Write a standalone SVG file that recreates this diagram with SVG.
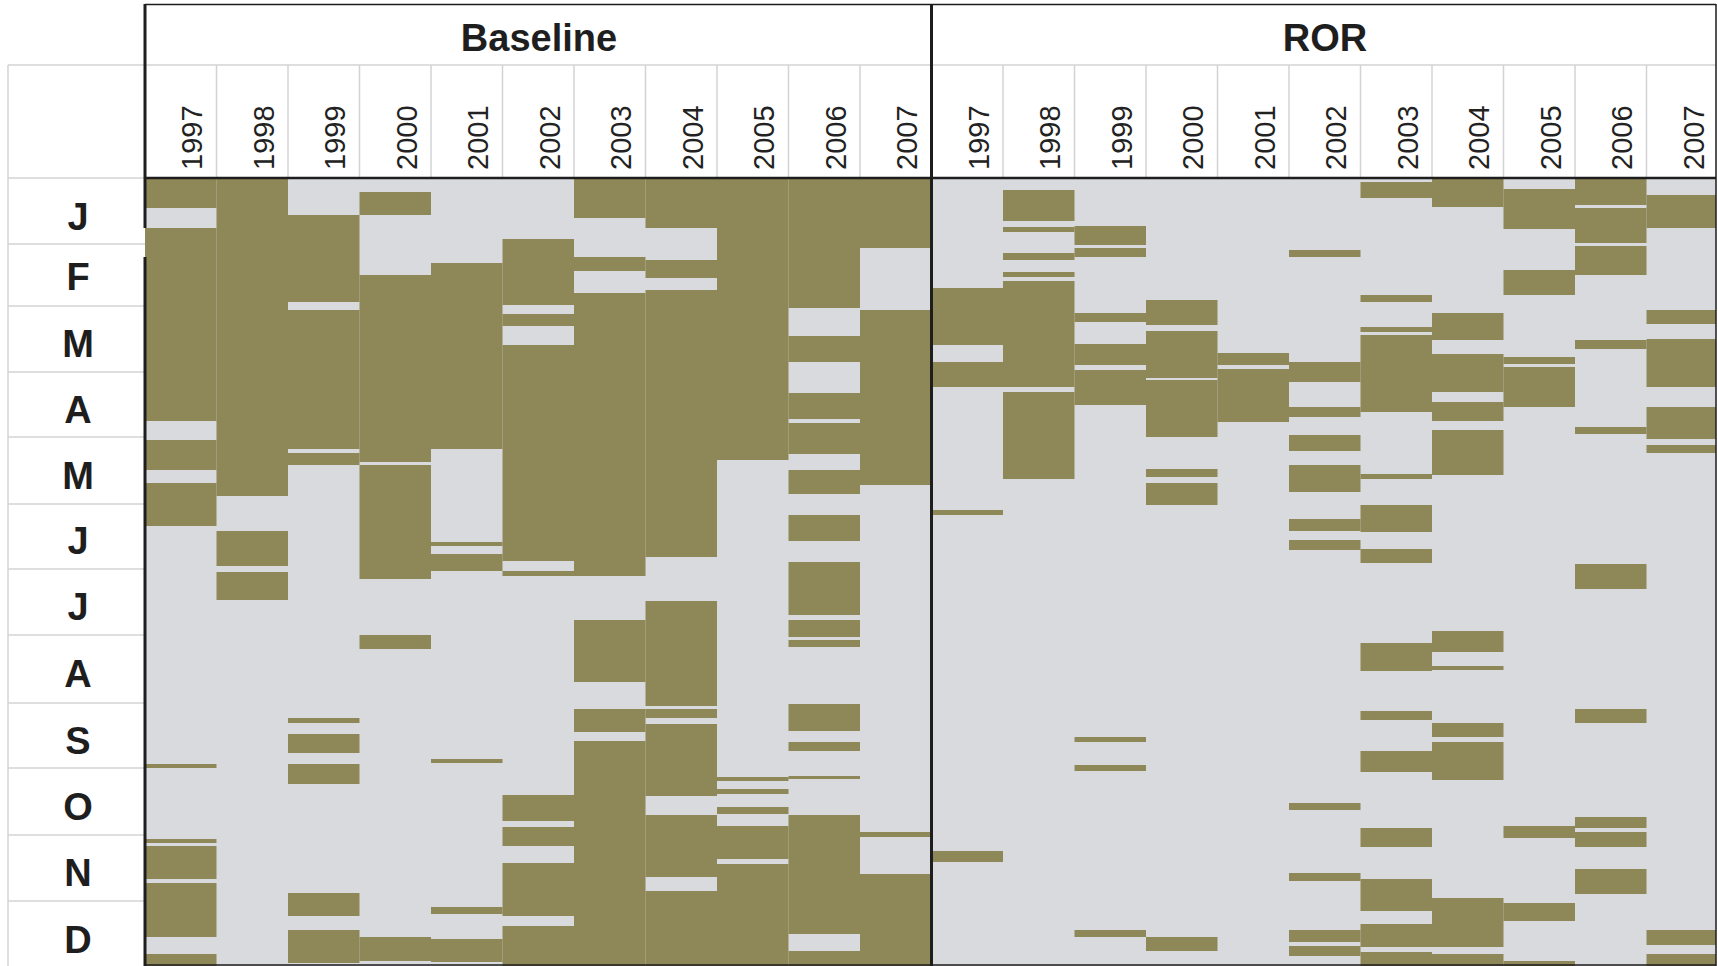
<svg xmlns="http://www.w3.org/2000/svg" width="1718" height="966" viewBox="0 0 1718 966">
<style>
.o{fill:#8E8757}
.grid{stroke:#D2D3D5;stroke-width:1.5;fill:none}
.dk{stroke:#1E1E1E;fill:none}
.hdr{font-family:"Liberation Sans",Arial,sans-serif;font-weight:bold;font-size:38px;fill:#1E1E1E;text-anchor:middle}
.yr{font-family:"Liberation Sans",Arial,sans-serif;font-size:29px;fill:#222}
.mo{font-family:"Liberation Sans",Arial,sans-serif;font-weight:bold;font-size:38px;fill:#1E1E1E;text-anchor:middle}
</style>
<rect x="0" y="0" width="1718" height="966" fill="#fff"/>
<rect id="heatmap-bg" x="145" y="178" width="1571" height="788" fill="#D9DADE"/>

<g id="baseline-1997" class="o"><rect x="145" y="178" width="71.5" height="30"/><rect x="145" y="228" width="71.5" height="193"/><rect x="145" y="440" width="71.5" height="30"/><rect x="145" y="483" width="71.5" height="43"/><rect x="145" y="764" width="71.5" height="4"/><rect x="145" y="839" width="71.5" height="4"/><rect x="145" y="846" width="71.5" height="33"/><rect x="145" y="883" width="71.5" height="54"/><rect x="145" y="954" width="71.5" height="12"/></g>
<g id="baseline-1998" class="o"><rect x="216.5" y="178" width="71.5" height="318"/><rect x="216.5" y="531" width="71.5" height="35"/><rect x="216.5" y="572" width="71.5" height="28"/></g>
<g id="baseline-1999" class="o"><rect x="288" y="215" width="71.5" height="87"/><rect x="288" y="310" width="71.5" height="139"/><rect x="288" y="453" width="71.5" height="12"/><rect x="288" y="718" width="71.5" height="5"/><rect x="288" y="734" width="71.5" height="19"/><rect x="288" y="764" width="71.5" height="20"/><rect x="288" y="893" width="71.5" height="23"/><rect x="288" y="930" width="71.5" height="33"/></g>
<g id="baseline-2000" class="o"><rect x="359.5" y="192" width="71.5" height="23"/><rect x="359.5" y="275" width="71.5" height="187"/><rect x="359.5" y="465" width="71.5" height="114"/><rect x="359.5" y="635" width="71.5" height="14"/><rect x="359.5" y="937" width="71.5" height="24"/></g>
<g id="baseline-2001" class="o"><rect x="431" y="263" width="71.5" height="186"/><rect x="431" y="542" width="71.5" height="4"/><rect x="431" y="554" width="71.5" height="17"/><rect x="431" y="759" width="71.5" height="4"/><rect x="431" y="907" width="71.5" height="7"/><rect x="431" y="939" width="71.5" height="23"/></g>
<g id="baseline-2002" class="o"><rect x="502.5" y="239" width="71.5" height="66"/><rect x="502.5" y="314" width="71.5" height="12"/><rect x="502.5" y="345" width="71.5" height="216"/><rect x="502.5" y="571" width="71.5" height="5"/><rect x="502.5" y="795" width="71.5" height="26"/><rect x="502.5" y="827" width="71.5" height="19"/><rect x="502.5" y="863" width="71.5" height="53"/><rect x="502.5" y="926" width="71.5" height="40"/></g>
<g id="baseline-2003" class="o"><rect x="574" y="178" width="71.5" height="40"/><rect x="574" y="257" width="71.5" height="14"/><rect x="574" y="293" width="71.5" height="283"/><rect x="574" y="620" width="71.5" height="62"/><rect x="574" y="709" width="71.5" height="23"/><rect x="574" y="741" width="71.5" height="225"/></g>
<g id="baseline-2004" class="o"><rect x="645.5" y="178" width="71.5" height="50"/><rect x="645.5" y="260" width="71.5" height="18"/><rect x="645.5" y="290" width="71.5" height="267"/><rect x="645.5" y="601" width="71.5" height="105"/><rect x="645.5" y="709" width="71.5" height="9"/><rect x="645.5" y="724" width="71.5" height="72"/><rect x="645.5" y="815" width="71.5" height="62"/><rect x="645.5" y="891" width="71.5" height="75"/></g>
<g id="baseline-2005" class="o"><rect x="717" y="178" width="71.5" height="282"/><rect x="717" y="777" width="71.5" height="4"/><rect x="717" y="789" width="71.5" height="5"/><rect x="717" y="807" width="71.5" height="7"/><rect x="717" y="826" width="71.5" height="33"/><rect x="717" y="864" width="71.5" height="102"/></g>
<g id="baseline-2006" class="o"><rect x="788.5" y="178" width="71.5" height="130"/><rect x="788.5" y="336" width="71.5" height="26"/><rect x="788.5" y="393" width="71.5" height="26"/><rect x="788.5" y="423" width="71.5" height="31"/><rect x="788.5" y="470" width="71.5" height="24"/><rect x="788.5" y="515" width="71.5" height="26"/><rect x="788.5" y="562" width="71.5" height="53"/><rect x="788.5" y="620" width="71.5" height="17"/><rect x="788.5" y="640" width="71.5" height="7"/><rect x="788.5" y="704" width="71.5" height="27"/><rect x="788.5" y="742" width="71.5" height="9"/><rect x="788.5" y="776" width="71.5" height="3"/><rect x="788.5" y="815" width="71.5" height="119"/><rect x="788.5" y="951" width="71.5" height="15"/></g>
<g id="baseline-2007" class="o"><rect x="860" y="178" width="71.5" height="70"/><rect x="860" y="310" width="71.5" height="175"/><rect x="860" y="832" width="71.5" height="5"/><rect x="860" y="874" width="71.5" height="92"/></g>

<g id="ror-1997" class="o"><rect x="931.5" y="288" width="71.5" height="57"/><rect x="931.5" y="362" width="71.5" height="25"/><rect x="931.5" y="510" width="71.5" height="5"/><rect x="931.5" y="851" width="71.5" height="11"/></g>
<g id="ror-1998" class="o"><rect x="1003" y="190" width="71.5" height="31"/><rect x="1003" y="227" width="71.5" height="5"/><rect x="1003" y="253" width="71.5" height="7"/><rect x="1003" y="272" width="71.5" height="5"/><rect x="1003" y="281" width="71.5" height="106"/><rect x="1003" y="392" width="71.5" height="87"/></g>
<g id="ror-1999" class="o"><rect x="1074.5" y="226" width="71.5" height="19"/><rect x="1074.5" y="248" width="71.5" height="9"/><rect x="1074.5" y="313" width="71.5" height="9"/><rect x="1074.5" y="344" width="71.5" height="21"/><rect x="1074.5" y="370" width="71.5" height="35"/><rect x="1074.5" y="737" width="71.5" height="5"/><rect x="1074.5" y="765" width="71.5" height="6"/><rect x="1074.5" y="930" width="71.5" height="7"/></g>
<g id="ror-2000" class="o"><rect x="1146" y="300" width="71.5" height="25"/><rect x="1146" y="331" width="71.5" height="47"/><rect x="1146" y="380" width="71.5" height="57"/><rect x="1146" y="469" width="71.5" height="8"/><rect x="1146" y="483" width="71.5" height="22"/><rect x="1146" y="937" width="71.5" height="14"/></g>
<g id="ror-2001" class="o"><rect x="1217.5" y="353" width="71.5" height="12"/><rect x="1217.5" y="369" width="71.5" height="53"/></g>
<g id="ror-2002" class="o"><rect x="1289" y="250" width="71.5" height="7"/><rect x="1289" y="362" width="71.5" height="20"/><rect x="1289" y="407" width="71.5" height="10"/><rect x="1289" y="435" width="71.5" height="16"/><rect x="1289" y="465" width="71.5" height="27"/><rect x="1289" y="519" width="71.5" height="12"/><rect x="1289" y="540" width="71.5" height="10"/><rect x="1289" y="803" width="71.5" height="7"/><rect x="1289" y="873" width="71.5" height="8"/><rect x="1289" y="930" width="71.5" height="12"/><rect x="1289" y="946" width="71.5" height="10"/></g>
<g id="ror-2003" class="o"><rect x="1360.5" y="182" width="71.5" height="16"/><rect x="1360.5" y="295" width="71.5" height="7"/><rect x="1360.5" y="327" width="71.5" height="5"/><rect x="1360.5" y="335" width="71.5" height="77"/><rect x="1360.5" y="474" width="71.5" height="5"/><rect x="1360.5" y="505" width="71.5" height="27"/><rect x="1360.5" y="549" width="71.5" height="14"/><rect x="1360.5" y="643" width="71.5" height="28"/><rect x="1360.5" y="711" width="71.5" height="9"/><rect x="1360.5" y="751" width="71.5" height="21"/><rect x="1360.5" y="828" width="71.5" height="19"/><rect x="1360.5" y="879" width="71.5" height="32"/><rect x="1360.5" y="924" width="71.5" height="23"/><rect x="1360.5" y="952" width="71.5" height="14"/></g>
<g id="ror-2004" class="o"><rect x="1432" y="178" width="71.5" height="29"/><rect x="1432" y="313" width="71.5" height="27"/><rect x="1432" y="354" width="71.5" height="38"/><rect x="1432" y="402" width="71.5" height="19"/><rect x="1432" y="430" width="71.5" height="45"/><rect x="1432" y="631" width="71.5" height="21"/><rect x="1432" y="666" width="71.5" height="4"/><rect x="1432" y="723" width="71.5" height="14"/><rect x="1432" y="742" width="71.5" height="38"/><rect x="1432" y="898" width="71.5" height="49"/><rect x="1432" y="954" width="71.5" height="12"/></g>
<g id="ror-2005" class="o"><rect x="1503.5" y="189" width="71.5" height="40"/><rect x="1503.5" y="270" width="71.5" height="25"/><rect x="1503.5" y="357" width="71.5" height="7"/><rect x="1503.5" y="367" width="71.5" height="40"/><rect x="1503.5" y="826" width="71.5" height="12"/><rect x="1503.5" y="903" width="71.5" height="18"/><rect x="1503.5" y="961" width="71.5" height="5"/></g>
<g id="ror-2006" class="o"><rect x="1575" y="178" width="71.5" height="27"/><rect x="1575" y="208" width="71.5" height="35"/><rect x="1575" y="246" width="71.5" height="29"/><rect x="1575" y="340" width="71.5" height="9"/><rect x="1575" y="427" width="71.5" height="7"/><rect x="1575" y="564" width="71.5" height="25"/><rect x="1575" y="709" width="71.5" height="14"/><rect x="1575" y="817" width="71.5" height="11"/><rect x="1575" y="832" width="71.5" height="15"/><rect x="1575" y="869" width="71.5" height="25"/></g>
<g id="ror-2007" class="o"><rect x="1646.5" y="195" width="69.5" height="33"/><rect x="1646.5" y="310" width="69.5" height="14"/><rect x="1646.5" y="339" width="69.5" height="48"/><rect x="1646.5" y="407" width="69.5" height="32"/><rect x="1646.5" y="445" width="69.5" height="8"/><rect x="1646.5" y="930" width="69.5" height="15"/><rect x="1646.5" y="954" width="69.5" height="12"/></g>

<g id="grid-lines">
<path class="grid" d="M8,65H145M8,178H145M8,244H145M8,306H145M8,372H145M8,437H145M8,504H145M8,569H145M8,635H145M8,703H145M8,768H145M8,835H145M8,901H145M8,65V966"/>
<path class="grid" d="M145,65H1716"/>
<path class="grid" d="M216.5,65V178M288,65V178M359.5,65V178M431,65V178M502.5,65V178M574,65V178M645.5,65V178M717,65V178M788.5,65V178M860,65V178M1003,65V178M1074.5,65V178M1146,65V178M1217.5,65V178M1289,65V178M1360.5,65V178M1432,65V178M1503.5,65V178M1575,65V178M1646.5,65V178"/>
<path class="dk" stroke-width="1.5" d="M145,4.5H1716M1716,4V966M145,965H1716"/>
<path class="dk" stroke-width="2.5" d="M145,178H1716"/>
<path class="dk" stroke-width="3" d="M145,4V228M145,257V966M931.5,4V966"/>
</g>

<g id="header-baseline"><text class="hdr" x="539" y="51">Baseline</text></g>
<g id="header-ror"><text class="hdr" x="1325" y="51">ROR</text></g>

<g id="year-labels">
<text class="yr" transform="translate(202,170) rotate(-90)">1997</text>
<text class="yr" transform="translate(273.5,170) rotate(-90)">1998</text>
<text class="yr" transform="translate(345,170) rotate(-90)">1999</text>
<text class="yr" transform="translate(416.5,170) rotate(-90)">2000</text>
<text class="yr" transform="translate(488,170) rotate(-90)">2001</text>
<text class="yr" transform="translate(559.5,170) rotate(-90)">2002</text>
<text class="yr" transform="translate(631,170) rotate(-90)">2003</text>
<text class="yr" transform="translate(702.5,170) rotate(-90)">2004</text>
<text class="yr" transform="translate(774,170) rotate(-90)">2005</text>
<text class="yr" transform="translate(845.5,170) rotate(-90)">2006</text>
<text class="yr" transform="translate(917,170) rotate(-90)">2007</text>
<text class="yr" transform="translate(988.5,170) rotate(-90)">1997</text>
<text class="yr" transform="translate(1060,170) rotate(-90)">1998</text>
<text class="yr" transform="translate(1131.5,170) rotate(-90)">1999</text>
<text class="yr" transform="translate(1203,170) rotate(-90)">2000</text>
<text class="yr" transform="translate(1274.5,170) rotate(-90)">2001</text>
<text class="yr" transform="translate(1346,170) rotate(-90)">2002</text>
<text class="yr" transform="translate(1417.5,170) rotate(-90)">2003</text>
<text class="yr" transform="translate(1489,170) rotate(-90)">2004</text>
<text class="yr" transform="translate(1560.5,170) rotate(-90)">2005</text>
<text class="yr" transform="translate(1632,170) rotate(-90)">2006</text>
<text class="yr" transform="translate(1703.5,170) rotate(-90)">2007</text>
</g>

<g id="month-labels">
<text class="mo" x="78" y="230">J</text>
<text class="mo" x="78" y="290">F</text>
<text class="mo" x="78" y="357">M</text>
<text class="mo" x="78" y="423">A</text>
<text class="mo" x="78" y="489">M</text>
<text class="mo" x="78" y="554">J</text>
<text class="mo" x="78" y="620">J</text>
<text class="mo" x="78" y="687">A</text>
<text class="mo" x="78" y="754">S</text>
<text class="mo" x="78" y="820">O</text>
<text class="mo" x="78" y="886">N</text>
<text class="mo" x="78" y="953">D</text>
</g>
</svg>
